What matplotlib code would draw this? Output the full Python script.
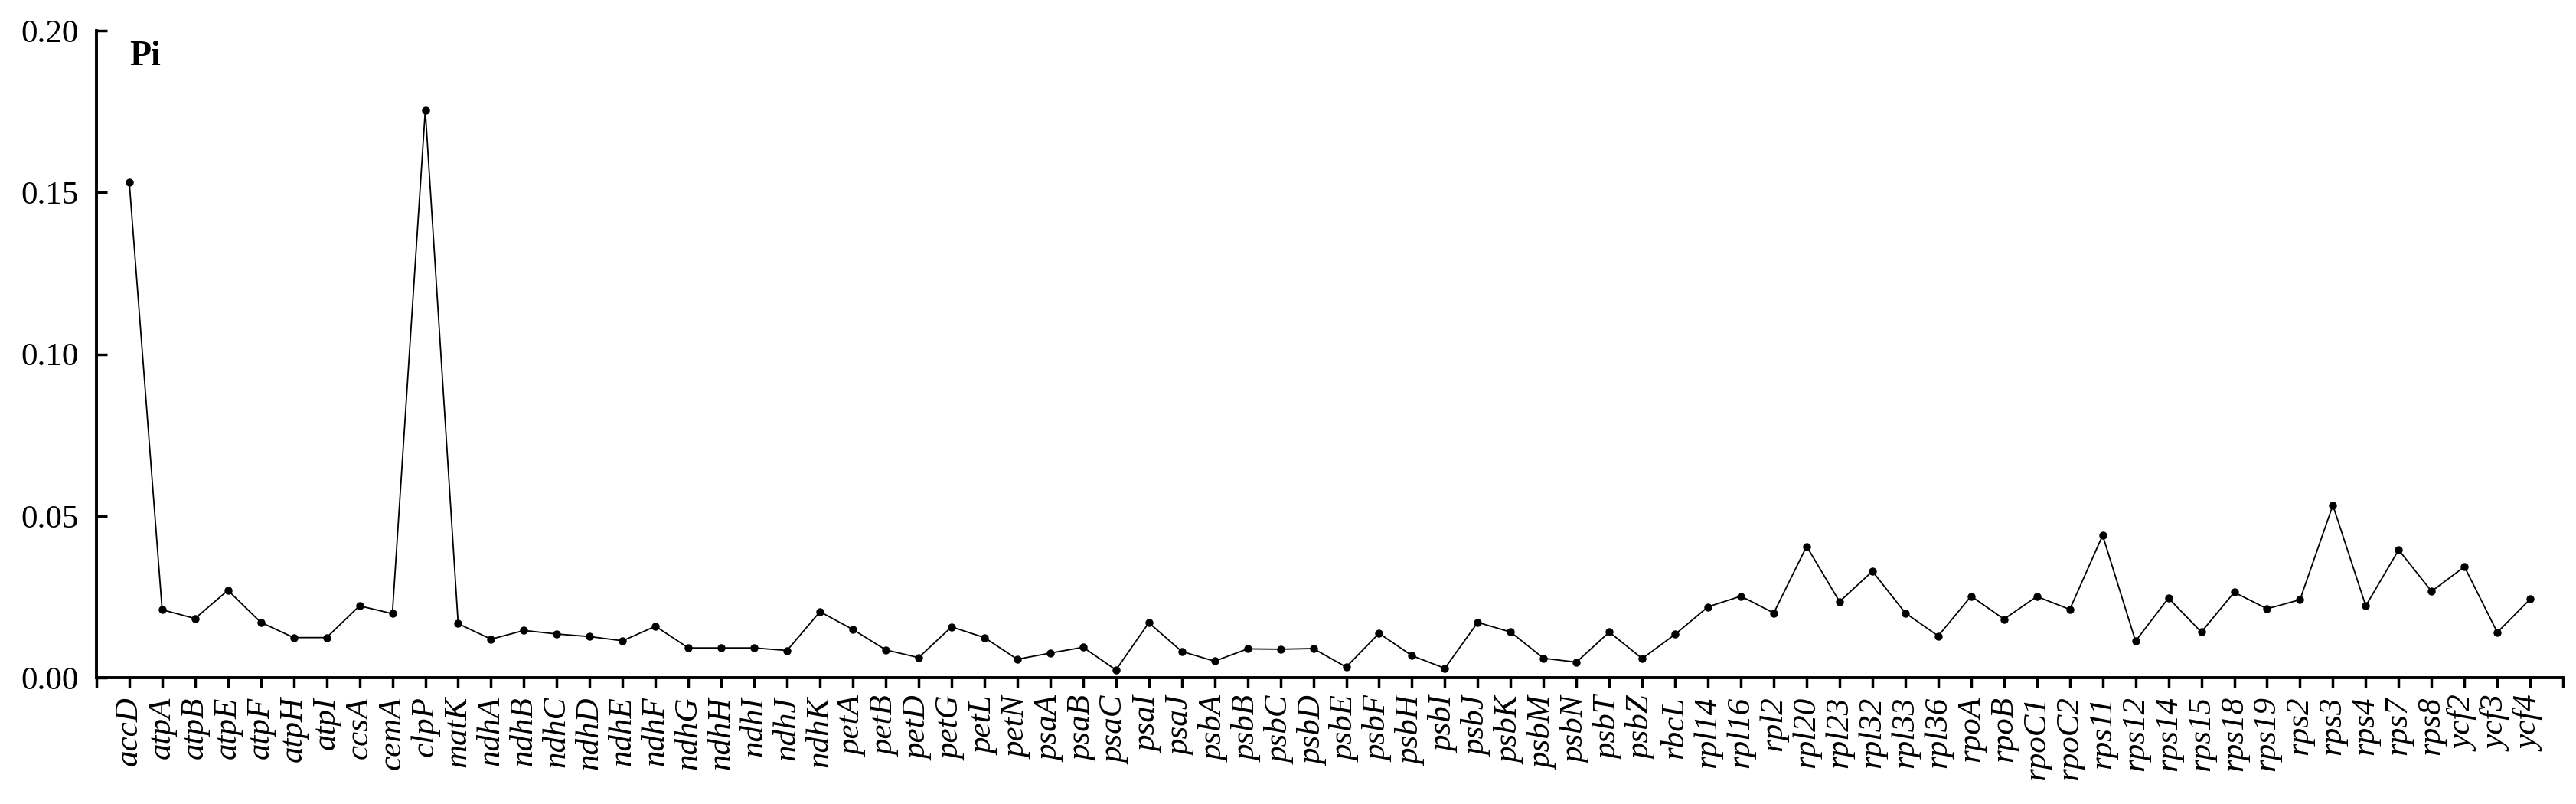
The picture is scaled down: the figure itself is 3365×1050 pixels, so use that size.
import matplotlib.pyplot as plt
import numpy as np

plt.rcParams['font.family'] = ['Liberation Serif', 'DejaVu Serif']

genes = ["accD", "atpA", "atpB", "atpE", "atpF", "atpH", "atpI", "ccsA", "cemA", "clpP",
         "matK", "ndhA", "ndhB", "ndhC", "ndhD", "ndhE", "ndhF", "ndhG", "ndhH", "ndhI",
         "ndhJ", "ndhK", "petA", "petB", "petD", "petG", "petL", "petN", "psaA", "psaB",
         "psaC", "psaI", "psaJ", "psbA", "psbB", "psbC", "psbD", "psbE", "psbF", "psbH",
         "psbI", "psbJ", "psbK", "psbM", "psbN", "psbT", "psbZ", "rbcL", "rpl14", "rpl16",
         "rpl2", "rpl20", "rpl23", "rpl32", "rpl33", "rpl36", "rpoA", "rpoB", "rpoC1", "rpoC2",
         "rps11", "rps12", "rps14", "rps15", "rps18", "rps19", "rps2", "rps3", "rps4", "rps7",
         "rps8", "ycf2", "ycf3", "ycf4"]

pi_values = [0.1532, 0.0210, 0.0183, 0.0270, 0.0171, 0.0124, 0.0124, 0.0222, 0.0198, 0.1754,
             0.0167, 0.0119, 0.0146, 0.0135, 0.0127, 0.0114, 0.0159, 0.0092, 0.0092, 0.0092,
             0.0084, 0.0204, 0.0149, 0.0086, 0.0062, 0.0157, 0.0124, 0.0057, 0.0076, 0.0094,
             0.0024, 0.0170, 0.0081, 0.0051, 0.0089, 0.0088, 0.0090, 0.0033, 0.0137, 0.0068,
             0.0029, 0.0171, 0.0141, 0.0060, 0.0048, 0.0141, 0.0059, 0.0134, 0.0219, 0.0252,
             0.0200, 0.0406, 0.0235, 0.0329, 0.0200, 0.0129, 0.0252, 0.0181, 0.0251, 0.0211,
             0.0440, 0.0113, 0.0246, 0.0141, 0.0264, 0.0213, 0.0241, 0.0533, 0.0222, 0.0395,
             0.0267, 0.0343, 0.0140, 0.0243]

y_ticks = [0.00, 0.05, 0.10, 0.15, 0.20]

fig = plt.figure(figsize=(33.66, 10.5), dpi=100)
ax = fig.add_axes([0.0374, 0.1571, 0.9573, 0.8048])

x = np.arange(len(genes))
ax.plot(x, pi_values, color="black", linewidth=1.3, marker="o", markersize=6.5)

ax.set_xlim(-1, len(genes))
ax.set_ylim(0, 0.20)

# ticks at every gene plus both ends of the axis, labels only on genes
ax.set_xticks(np.arange(-1, len(genes) + 1))
ax.set_xticklabels([""] + genes + [""], rotation=90, style="italic", fontsize=31)
ax.set_yticks(y_ticks)
ax.set_yticklabels([f"{v:.2f}" for v in y_ticks], fontsize=31)

ax.tick_params(axis="x", direction="out", length=9.5, width=2.5, pad=8)
ax.tick_params(axis="y", direction="in", length=10, width=2.5, pad=17)

for side in ["top", "right"]:
    ax.spines[side].set_visible(False)
for side in ["left", "bottom"]:
    ax.spines[side].set_linewidth(2.8)

ax.text(0, 0.197, "Pi", fontsize=33, fontweight="bold", ha="left", va="top")

fig.savefig("out.png", dpi=100)
